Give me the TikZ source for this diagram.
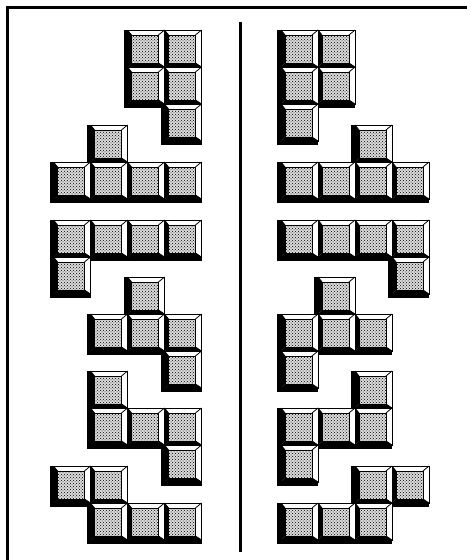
\documentclass[tikz,border=0pt]{standalone}
\usetikzlibrary{patterns}

% one pentomino: x and y of its top left cell, then the cells as col/row
\newcommand{\drawpiece}[3]{%
  \foreach \c/\r in {#3} \pic at ({#1+\c*37},{#2+\r*37}) {cellshadow};
  \foreach \c/\r in {#3} \pic at ({#1+\c*37},{#2+\r*37}) {cell};
}

\begin{document}
\begin{tikzpicture}[
  x=1pt,
  y=-1pt,
  frame/.style={line width=3pt},
  edge/.style={line width=0.8pt},
  face/.style={
    draw,
    line width=0.6pt,
    preaction={fill=gray!28},
    pattern=crosshatch dots,
    pattern color=black
  },
  cellshadow/.pic={
    \fill[black] (-4,0) rectangle (37,41);
  },
  cell/.pic={
    \fill[white] (0,0) rectangle (37,37);
    \fill[black] (0,0) -- (4,5) -- (4,33) -- (0,37) -- cycle;
    \fill[black] (0,37) -- (4,33) -- (31,33) -- (37,37) -- cycle;
    \path[face] (4,5) rectangle (31,33);
    \draw[edge] (0,0) rectangle (37,37);
    \draw[edge] (0,0) -- (4,5) (37,0) -- (31,5) (37,37) -- (31,33);
  }
]
\useasboundingbox (0,0) rectangle (471,560);

% frame and divider
\draw[frame] (467,7.5) -- (7,7.5) -- (7,560);
\draw[frame] (240.5,22) -- (240.5,552);

% left column
\drawpiece{53.5}{30}{2/0,3/0,2/1,3/1,3/2}
\drawpiece{53.5}{125}{1/0,0/1,1/1,2/1,3/1}
\drawpiece{53.5}{220}{0/0,1/0,2/0,3/0,0/1}
\drawpiece{53.5}{277}{2/0,1/1,2/1,3/1,3/2}
\drawpiece{53.5}{371}{1/0,1/1,2/1,3/1,3/2}
\drawpiece{53.5}{466}{0/0,1/0,1/1,2/1,3/1}

% right column, mirrored
\drawpiece{281}{30}{0/0,1/0,0/1,1/1,0/2}
\drawpiece{281}{125}{2/0,0/1,1/1,2/1,3/1}
\drawpiece{281}{220}{0/0,1/0,2/0,3/0,3/1}
\drawpiece{281}{277}{1/0,0/1,1/1,2/1,0/2}
\drawpiece{281}{371}{2/0,0/1,1/1,2/1,0/2}
\drawpiece{281}{466}{2/0,3/0,0/1,1/1,2/1}
\end{tikzpicture}
\end{document}
